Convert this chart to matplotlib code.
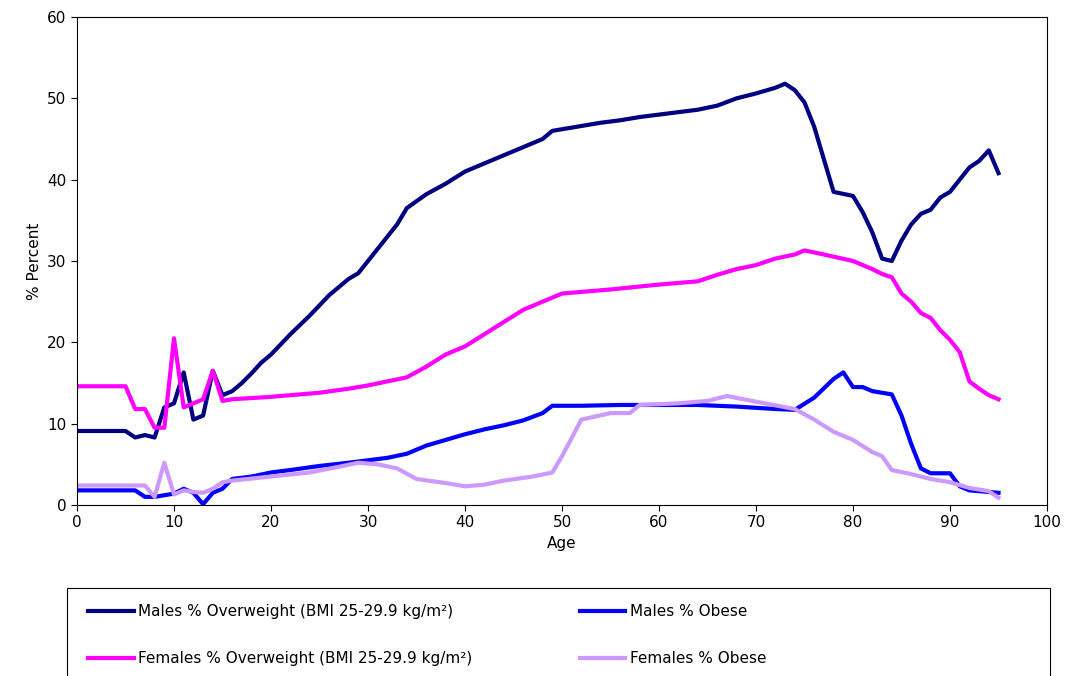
import matplotlib.pyplot as plt
from matplotlib.patches import Rectangle

m_ow_age = [0, 5, 6, 7, 8, 9, 10, 11, 12, 13, 14, 15, 16, 17, 18, 19, 20, 22, 24, 26, 28, 29, 30, 32, 33, 34, 36, 38, 40, 42, 44, 46, 48, 49, 52, 54, 56, 58, 60, 62, 64, 66, 68, 70, 72, 73, 74, 75, 76, 77, 78, 80, 81, 82, 83, 84, 85, 86, 87, 88, 89, 90, 91, 92, 93, 94, 95]
m_ow = [9.1, 9.1, 8.3, 8.6, 8.3, 12, 12.5, 16.3, 10.5, 11, 16.5, 13.5, 14, 15, 16.2, 17.5, 18.5, 21, 23.3, 25.8, 27.8, 28.5, 30, 33, 34.5, 36.5, 38.2, 39.5, 41, 42, 43, 44, 45, 46, 46.6, 47, 47.3, 47.7, 48, 48.3, 48.6, 49.1, 50, 50.6, 51.3, 51.8, 51, 49.5, 46.5, 42.5, 38.5, 38, 36, 33.5, 30.3, 30, 32.5, 34.5, 35.8, 36.3, 37.8, 38.5, 40, 41.5, 42.3, 43.6, 40.8]

f_ow_age = [0, 5, 6, 7, 8, 9, 10, 11, 12, 13, 14, 15, 16, 20, 25, 28, 30, 34, 36, 38, 40, 42, 44, 46, 48, 50, 55, 60, 64, 66, 68, 70, 72, 74, 75, 77, 80, 82, 83, 84, 85, 86, 87, 88, 89, 90, 91, 92, 93, 94, 95]
f_ow = [14.6, 14.6, 11.8, 11.8, 9.5, 9.5, 20.5, 12, 12.5, 13, 16.5, 12.8, 13, 13.3, 13.8, 14.3, 14.7, 15.7, 17, 18.5, 19.5, 21, 22.5, 24, 25, 26, 26.5, 27.1, 27.5, 28.3, 29, 29.5, 30.3, 30.8, 31.3, 30.8, 30, 29, 28.4, 28, 26, 25, 23.6, 23, 21.5, 20.3, 18.8, 15.2, 14.3, 13.5, 13]

m_ob_age = [0, 6, 7, 8, 9, 10, 11, 12, 13, 14, 15, 16, 18, 20, 22, 25, 28, 30, 32, 34, 36, 38, 40, 42, 44, 46, 48, 49, 52, 56, 60, 64, 68, 72, 74, 76, 78, 79, 80, 81, 82, 84, 85, 86, 87, 88, 90, 91, 92, 94, 95]
m_ob = [1.8, 1.8, 1, 1, 1.2, 1.4, 2, 1.5, 0.1, 1.5, 2, 3.2, 3.5, 4, 4.3, 4.8, 5.2, 5.5, 5.8, 6.3, 7.3, 8, 8.7, 9.3, 9.8, 10.4, 11.3, 12.2, 12.2, 12.3, 12.3, 12.3, 12.1, 11.8, 11.7, 13.2, 15.5, 16.3, 14.5, 14.5, 14, 13.6, 11, 7.5, 4.5, 3.9, 3.9, 2.3, 1.8, 1.6, 1.5]

f_ob_age = [0, 7, 8, 9, 10, 11, 12, 13, 14, 15, 16, 20, 24, 27, 29, 31, 33, 35, 38, 40, 42, 44, 47, 49, 50, 52, 55, 57, 58, 62, 65, 67, 70, 74, 76, 78, 80, 82, 83, 84, 86, 88, 90, 92, 94, 95]
f_ob = [2.4, 2.4, 1, 5.2, 1.3, 1.8, 1.6, 1.5, 2, 2.8, 3, 3.5, 4, 4.7, 5.2, 5, 4.5, 3.2, 2.7, 2.3, 2.5, 3, 3.5, 4, 6, 10.5, 11.3, 11.3, 12.3, 12.5, 12.8, 13.4, 12.7, 11.8, 10.5, 9, 8, 6.5, 6, 4.3, 3.8, 3.2, 2.8, 2.1, 1.7, 0.9]

plt.rcParams['font.family'] = ['DejaVu Sans']
fig = plt.figure(figsize=(10.71, 6.76), dpi=100)
ax = fig.add_axes([77 / 1071, 1 - 505 / 676, 970 / 1071, 488 / 676])

ax.plot(m_ow_age, m_ow, color='#000080', lw=3, label='Males % Overweight (BMI 25-29.9 kg/m²)')
ax.plot(m_ob_age, m_ob, color='#0000ff', lw=3, label='Males % Obese')
ax.plot(f_ow_age, f_ow, color='#ff00ff', lw=3, label='Females % Overweight (BMI 25-29.9 kg/m²)')
ax.plot(f_ob_age, f_ob, color='#cc99ff', lw=3, label='Females % Obese')

ax.set_xlim(0, 100)
ax.set_ylim(0, 60)
ax.set_xticks(range(0, 101, 10))
ax.set_yticks(range(0, 61, 10))
ax.tick_params(labelsize=11, direction='out', length=4)
ax.set_xlabel('Age', fontsize=11)
ax.set_ylabel('% Percent', fontsize=11)

# legend frame spans the full width and runs off the bottom
fig.patches.append(Rectangle((67 / 1071, -0.02), 983 / 1071, 0.02 + 1 - 588 / 676,
                             transform=fig.transFigure, fill=False, edgecolor='black', lw=0.8))
h, l = ax.get_legend_handles_labels()
order = [0, 2, 1, 3]
fig.legend([h[i] for i in order], [l[i] for i in order], ncol=2,
           loc='upper left', bbox_to_anchor=(88 / 1071, 1 - 604 / 676),
           fontsize=11, frameon=False, handlelength=3.0, labelspacing=2.1,
           borderaxespad=0, borderpad=0, handletextpad=0.3, columnspacing=7.0)

fig.savefig('out.png', dpi=100)
